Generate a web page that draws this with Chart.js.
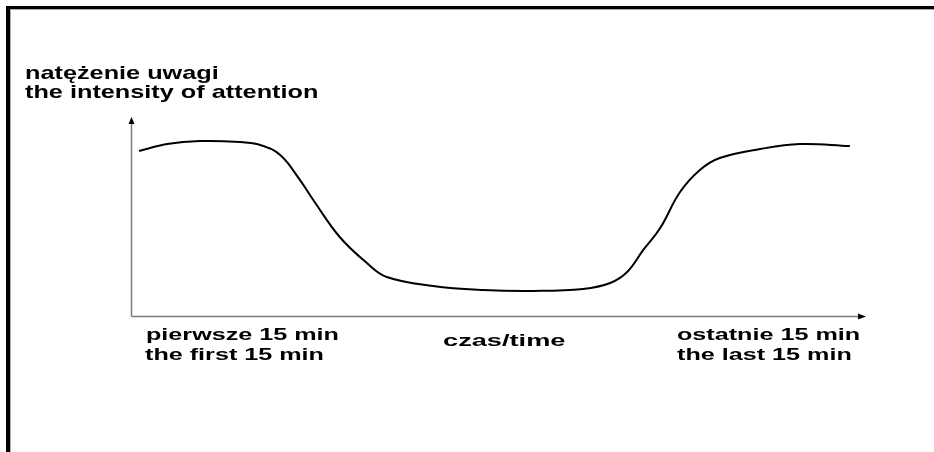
<!DOCTYPE html>
<html>
<head>
<meta charset="utf-8">
<script src="https://cdn.jsdelivr.net/npm/chart.js@4"></script>
<style>
html,body{margin:0;padding:0;background:#fff;}
canvas{display:block;}
</style>
</head>
<body>
<canvas id="c" width="934" height="452"></canvas>
<script>
// time (0..100, start to end of lecture) and attention intensity (0..100)
const timeValues = [1.1, 4.9, 9.4, 14.8, 17.6, 20.3, 23.0, 24.8, 28.4, 32.1, 34.8, 41.1, 47.9, 54.7, 61.5, 65.2, 67.5, 69.7, 72.0, 74.7, 77.4, 80.1, 85.6, 91.0, 97.8];
const attentionValues = [82.9, 86.4, 87.9, 87.4, 85.9, 80.9, 68.3, 58.3, 39.7, 26.6, 19.6, 15.1, 13.1, 12.6, 13.6, 16.6, 22.1, 33.2, 44.2, 62.3, 73.4, 79.4, 83.9, 86.4, 85.4];
const yAxisLabels = ["natężenie uwagi", "the intensity of attention"];
const xStartLabels = ["pierwsze 15 min", "the first 15 min"];
const xMiddleLabel = "czas/time";
const xEndLabels = ["ostatnie 15 min", "the last 15 min"];

const points = timeValues.map((t, i) => ({x: t, y: attentionValues[i]}));

function stretchedText(ctx, txt, x, y, size, sx) {
  ctx.save();
  ctx.font = "bold " + size + "px 'Liberation Sans', Arial, sans-serif";
  ctx.textBaseline = "alphabetic";
  ctx.textAlign = "left";
  ctx.translate(x, y);
  ctx.scale(sx, 1);
  ctx.fillStyle = "#000";
  ctx.fillText(txt, 0, 0);
  ctx.restore();
}

const decor = {
  id: 'decor',
  beforeDraw(chart) {
    const ctx = chart.ctx;
    ctx.save();
    ctx.fillStyle = '#fff';
    ctx.fillRect(0, 0, chart.width, chart.height);
    // frame
    ctx.fillStyle = '#000';
    ctx.fillRect(6, 6, 928, 3);
    ctx.fillRect(6, 6, 4, 446);
    ctx.fillStyle = '#aaa';
    ctx.fillRect(10, 9, 924, 1);
    ctx.fillRect(10, 9, 1, 443);
    // axes
    const xs = chart.scales.x, ys = chart.scales.y;
    const x0 = Math.round(xs.getPixelForValue(0)) + 0.5;
    const y0 = Math.round(ys.getPixelForValue(0)) + 0.5;
    const xEnd = chart.chartArea.right;
    const yTop = chart.chartArea.top;
    ctx.strokeStyle = '#7a7a7a';
    ctx.lineWidth = 1.5;
    ctx.beginPath();
    ctx.moveTo(x0, y0);
    ctx.lineTo(x0, yTop + 4);
    ctx.moveTo(x0, y0);
    ctx.lineTo(xEnd - 4, y0);
    ctx.stroke();
    ctx.fillStyle = '#000';
    ctx.beginPath();
    ctx.moveTo(x0, yTop);
    ctx.lineTo(x0 - 3, yTop + 7);
    ctx.lineTo(x0 + 3, yTop + 7);
    ctx.closePath();
    ctx.fill();
    ctx.beginPath();
    ctx.moveTo(xEnd, y0);
    ctx.lineTo(xEnd - 8, y0 - 3);
    ctx.lineTo(xEnd - 8, y0 + 3);
    ctx.closePath();
    ctx.fill();
    // labels
    stretchedText(ctx, yAxisLabels[0], 25, 79, 19, 1.33);
    stretchedText(ctx, yAxisLabels[1], 25, 98, 19, 1.33);
    stretchedText(ctx, xStartLabels[0], 146, 340, 17, 1.48);
    stretchedText(ctx, xStartLabels[1], 145, 360, 17, 1.48);
    stretchedText(ctx, xMiddleLabel, 443, 346, 17, 1.6);
    stretchedText(ctx, xEndLabels[0], 677, 340, 17, 1.48);
    stretchedText(ctx, xEndLabels[1], 677, 360, 17, 1.48);
    ctx.restore();
  }
};

new Chart(document.getElementById('c'), {
  type: 'line',
  data: {
    datasets: [{
      data: points,
      borderColor: '#000',
      borderWidth: 2,
      pointRadius: 0,
      fill: false,
      tension: 0.4
    }]
  },
  options: {
    responsive: false,
    animation: false,
    layout: {padding: {left: 131, right: 68, top: 117, bottom: 136}},
    plugins: {legend: {display: false}, tooltip: {enabled: false}},
    scales: {
      x: {type: 'linear', min: 0, max: 100, display: false},
      y: {min: 0, max: 100, display: false}
    }
  },
  plugins: [decor]
});
</script>
</body>
</html>
